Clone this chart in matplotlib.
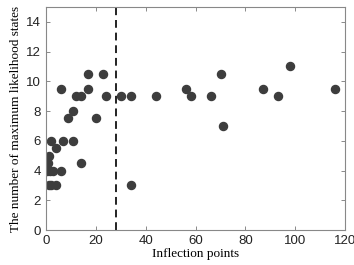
import matplotlib
matplotlib.use('Agg')
import matplotlib.pyplot as plt

# Inflection points vs number of maximum likelihood states
inflection = [1, 2, 4, 34,
              0.5, 1.6, 2.7, 6,
              0.7, 14, 1, 4,
              2, 7, 11,
              9, 20, 11,
              12, 14, 24, 30, 34, 44,
              6, 17, 17, 23,
              56, 87, 116, 58, 66, 93, 70, 71, 98]
states = [3, 3, 3, 3,
          4, 4, 4, 4,
          4.5, 4.5, 5, 5.5,
          6, 6, 6,
          7.5, 7.5, 8,
          9, 9, 9, 9, 9, 9,
          9.5, 9.5, 10.5, 10.5,
          9.5, 9.5, 9.5, 9, 9, 9, 10.5, 7, 11]
threshold = 28

fig = plt.figure(figsize=(3.54, 2.65), dpi=100)
ax = fig.add_axes([0.130, 0.132, 0.845, 0.842])

ax.plot(inflection, states, 'o', color='#3d3d3d', ms=5.8, mec='#3d3d3d')
ax.axvline(threshold, color='#222222', ls='--', lw=1.4, dashes=(4, 2.5))

ax.set_xlim(0, 120)
ax.set_ylim(0, 15)
ax.set_xticks(range(0, 121, 20))
ax.set_yticks(range(0, 15, 2))
ax.tick_params(direction='in', top=True, right=True, length=3, width=0.6,
               colors='#777777', labelcolor='#222222', labelsize=9.5)
for lbl in ax.get_xticklabels() + ax.get_yticklabels():
    lbl.set_family('Liberation Sans')
for s in ax.spines.values():
    s.set_color('#888888')
    s.set_linewidth(0.8)

ax.set_xlabel('Inflection points', family='Liberation Serif', fontsize=9.5, labelpad=1)
ax.set_ylabel('The number of maximum likelihood states', family='Liberation Serif',
              fontsize=9.5, labelpad=3)

fig.savefig('out.png', dpi=100)
